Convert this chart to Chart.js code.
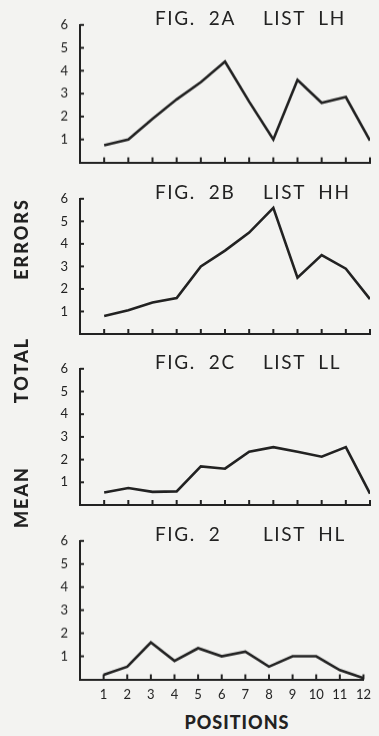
<!DOCTYPE html>
<html>
<head>
<meta charset="utf-8">
<script src="https://cdn.jsdelivr.net/npm/chart.js@4"></script>
<style>
    body {
        margin: 0;
        width: 379px;
        height: 736px;
        background: #f3f3f1;
        overflow: hidden;
        position: relative;
        font-family: "Lato", "DejaVu Sans", sans-serif;
        color: #222;
    }
    .panel {
        position: absolute;
        left: 0;
        width: 379px;
    }
    .fig {
        position: absolute;
        font-size: 19px;
        letter-spacing: 1.6px;
        line-height: 19px;
        white-space: pre;
    }
    .side {
        position: absolute;
        left: 21px;
        font-size: 18px;
        font-weight: 900;
        letter-spacing: 2px;
        transform: translate(-50%, -50%) rotate(-90deg);
        white-space: pre;
    }
    #positions {
        position: absolute;
        left: 237px;
        top: 722px;
        transform: translate(-50%, -50%);
        font-size: 18px;
        font-weight: 900;
        letter-spacing: 1px;
    }
</style>
</head>
<body>
<div id="positions">POSITIONS</div>
<script>
const positions = [1, 2, 3, 4, 5, 6, 7, 8, 9, 10, 11, 12];
const yTicks = [1, 2, 3, 4, 5, 6];

const listLH = [0.75, 1.0, 1.9, 2.75, 3.5, 4.4, 2.65, 1.0, 3.6, 2.6, 2.85, 0.95];
const listHH = [0.8, 1.05, 1.4, 1.6, 3.0, 3.7, 4.5, 5.6, 2.5, 3.5, 2.9, 1.55];
const listLL = [0.55, 0.75, 0.58, 0.6, 1.7, 1.6, 2.35, 2.55, 2.35, 2.13, 2.55, 0.5];
const listHL = [0.2, 0.55, 1.6, 0.8, 1.35, 1.0, 1.2, 0.55, 1.0, 1.0, 0.4, 0.05];

const figLabels = ["FIG.  2A", "FIG.  2B", "FIG.  2C", "FIG.  2"];
const listLabels = ["LIST  LH", "LIST  HH", "LIST  LL", "LIST  HL"];
const sideLabels = ["MEAN", "TOTAL", "ERRORS"];

const ink = "#222";

// small tick marks pointing into the plot, like the printed figure
const innerTicks = {
    id: "innerTicks",
    afterDraw(chart) {
        const { ctx, chartArea, scales } = chart;
        ctx.save();
        ctx.strokeStyle = ink;
        ctx.lineWidth = 2;
        positions.forEach((p) => {
            const x = scales.x.getPixelForValue(p);
            ctx.beginPath();
            ctx.moveTo(x, chartArea.bottom);
            ctx.lineTo(x, chartArea.bottom - 5);
            ctx.stroke();
        });
        yTicks.forEach((v) => {
            const y = scales.y.getPixelForValue(v);
            ctx.beginPath();
            ctx.moveTo(chartArea.left, y);
            ctx.lineTo(chartArea.left + 4, y);
            ctx.stroke();
        });
        ctx.restore();
    },
};

function makePanel(values, top, bottom, figText, listText, showX) {
    const panel = document.createElement("div");
    panel.className = "panel";
    panel.style.top = `${top - 10}px`;
    panel.style.height = `${bottom - top + 40}px`;
    const canvas = document.createElement("canvas");
    panel.appendChild(canvas);
    document.body.appendChild(panel);

    const fig = document.createElement("div");
    fig.className = "fig";
    fig.style.left = "155px";
    fig.style.top = `${top - 7}px`;
    fig.textContent = figText;
    document.body.appendChild(fig);

    const list = document.createElement("div");
    list.className = "fig";
    list.style.left = "263px";
    list.style.top = `${top - 7}px`;
    list.textContent = listText;
    document.body.appendChild(list);

    const data = {
        datasets: [
            {
                data: positions.map((p, i) => ({ x: p, y: values[i] })),
                borderColor: ink,
                borderWidth: 2.6,
                pointRadius: 0,
                tension: 0,
            },
        ],
    };

    const config = {
        type: "line",
        data: data,
        options: {
            responsive: true,
            maintainAspectRatio: false,
            animation: false,
            layout: { padding: { top: 10, right: 9, left: 0, bottom: 0 } },
            plugins: { legend: { display: false }, tooltip: { enabled: false } },
            scales: {
                x: {
                    type: "linear",
                    min: 0,
                    max: 12,
                    afterFit: (scale) => (scale.height = 30),
                    grid: { drawOnChartArea: false, drawTicks: false },
                    border: { display: true, color: ink, width: 2 },
                    ticks: {
                        display: showX,
                        stepSize: 1,
                        padding: 8,
                        maxRotation: 0,
                        autoSkip: false,
                        color: ink,
                        font: { family: "Lato", size: 13 },
                        callback: (v) => (v === 0 ? "" : v),
                    },
                },
                y: {
                    min: 0,
                    max: 6,
                    afterFit: (scale) => (scale.width = 80),
                    grid: { drawOnChartArea: false, drawTicks: false },
                    border: { display: true, color: ink, width: 2 },
                    ticks: {
                        stepSize: 1,
                        padding: 12,
                        color: ink,
                        font: { family: "Lato", size: 13 },
                        callback: (v) => (v === 0 ? "" : v),
                    },
                },
            },
        },
        plugins: [innerTicks],
    };

    return new Chart(canvas, config);
}

makePanel(listLH, 15, 161.5, figLabels[0], listLabels[0], false);
makePanel(listHH, 188.5, 333.5, figLabels[1], listLabels[1], false);
makePanel(listLL, 359, 505, figLabels[2], listLabels[2], false);
makePanel(listHL, 531, 678.5, figLabels[3], listLabels[3], true);

const sideY = [497, 370, 239];
sideLabels.forEach((text, i) => {
    const el = document.createElement("div");
    el.className = "side";
    el.style.top = `${sideY[i]}px`;
    el.textContent = text;
    document.body.appendChild(el);
});
</script>
</body>
</html>
